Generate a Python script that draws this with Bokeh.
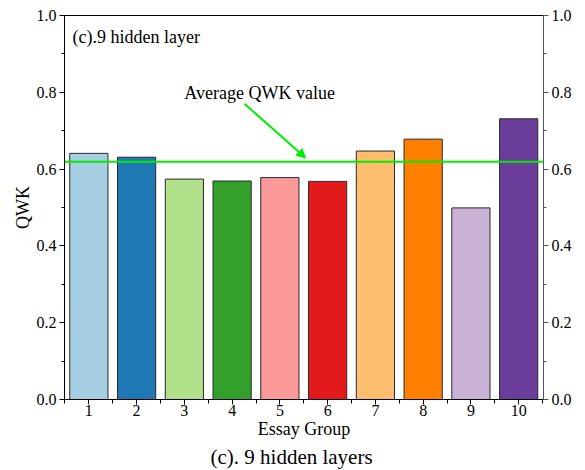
from bokeh.plotting import figure
from bokeh.models import (ColumnDataSource, LinearAxis, FixedTicker, Range1d,
                          Span, Label, Arrow, NormalHead, Title,
                          NumeralTickFormatter)
from bokeh.embed import file_html
from bokeh.resources import INLINE

# QWK per essay group, network with 9 hidden layers
groups = [1, 2, 3, 4, 5, 6, 7, 8, 9, 10]
qwk = [0.641, 0.631, 0.574, 0.569, 0.578, 0.568, 0.647, 0.678, 0.499, 0.731]
avg_qwk = 0.619
colors = ["#a6cee3", "#1f78b4", "#b2df8a", "#33a02c", "#fb9a99",
          "#e31a1c", "#fdbf6f", "#ff7f00", "#cab2d6", "#6a3d9a"]
y_ticks = [0.0, 0.2, 0.4, 0.6, 0.8, 1.0]

FONT = "Liberation Serif"
GREEN = "#00ee00"

src = ColumnDataSource(dict(x=groups, top=qwk, color=colors))

p = figure(width=585, height=470, output_backend="svg", toolbar_location=None,
           x_range=Range1d(0.49, 10.52), y_range=Range1d(0.0, 1.0),
           min_border_left=64, min_border_right=42, min_border_top=15,
           min_border_bottom=40)
p.background_fill_color = "white"
p.border_fill_color = "white"
p.grid.visible = False
p.outline_line_color = "black"
p.outline_line_width = 1

p.vbar(x="x", top="top", width=0.8, bottom=0, fill_color="color",
       line_color="#2a2a2a", line_width=1, source=src)

p.add_layout(Span(location=avg_qwk, dimension="width", line_color=GREEN,
                  line_width=2))

# axes
xt = FixedTicker(ticks=groups, minor_ticks=[g + 0.5 for g in [0] + groups])
p.xaxis.ticker = xt
p.xaxis.axis_label = "Essay Group"
yt = FixedTicker(ticks=y_ticks, minor_ticks=[i / 10 for i in range(11)])
p.yaxis.ticker = yt
p.yaxis.axis_label = "QWK"
p.yaxis.formatter = NumeralTickFormatter(format="0.0")

right = LinearAxis(ticker=yt, formatter=NumeralTickFormatter(format="0.0"))
p.add_layout(right, "right")

for ax in [p.xaxis[0], p.yaxis[0], right]:
    ax.major_label_text_font = FONT
    ax.major_label_text_font_size = "16px"
    ax.major_label_text_color = "black"
    ax.axis_label_text_font = FONT
    ax.axis_label_text_font_size = "18px"
    ax.axis_label_text_font_style = "normal"
    ax.axis_label_text_color = "black"
    ax.axis_line_color = "black"
    ax.major_tick_line_color = "black"
    ax.minor_tick_line_color = "black"
    ax.major_tick_out = 5
    ax.major_tick_in = 0
    ax.minor_tick_out = 3
    ax.minor_tick_in = 0
    ax.major_label_standoff = 3

right.axis_line_color = "#555555"
right.major_tick_line_color = "#555555"
right.minor_tick_line_color = "#555555"
p.xaxis.minor_tick_out = 4
p.xaxis.major_label_standoff = 0
p.xaxis.axis_label_standoff = 0
p.yaxis.axis_label_standoff = 1

p.add_layout(Title(text="(c). 9 hidden layers", text_font=FONT,
                   text_font_size="21px", text_font_style="normal",
                   text_color="black", align="left", offset=146,
                   standoff=3), "below")

p.add_layout(Label(x=0.66, y=0.945, text="(c).9 hidden layer", text_font=FONT,
                   text_font_size="18px", text_color="black",
                   text_baseline="middle"))
p.add_layout(Label(x=3.0, y=0.797, text="Average QWK value", text_font=FONT,
                   text_font_size="18px", text_color="black",
                   text_baseline="middle"))
p.add_layout(Arrow(x_start=4.26, y_start=0.77, x_end=5.54, y_end=0.629,
                   line_color=GREEN, line_width=2,
                   end=NormalHead(size=9, fill_color=GREEN, line_color=GREEN)))

open("out.html", "w").write(file_html(p, INLINE))
